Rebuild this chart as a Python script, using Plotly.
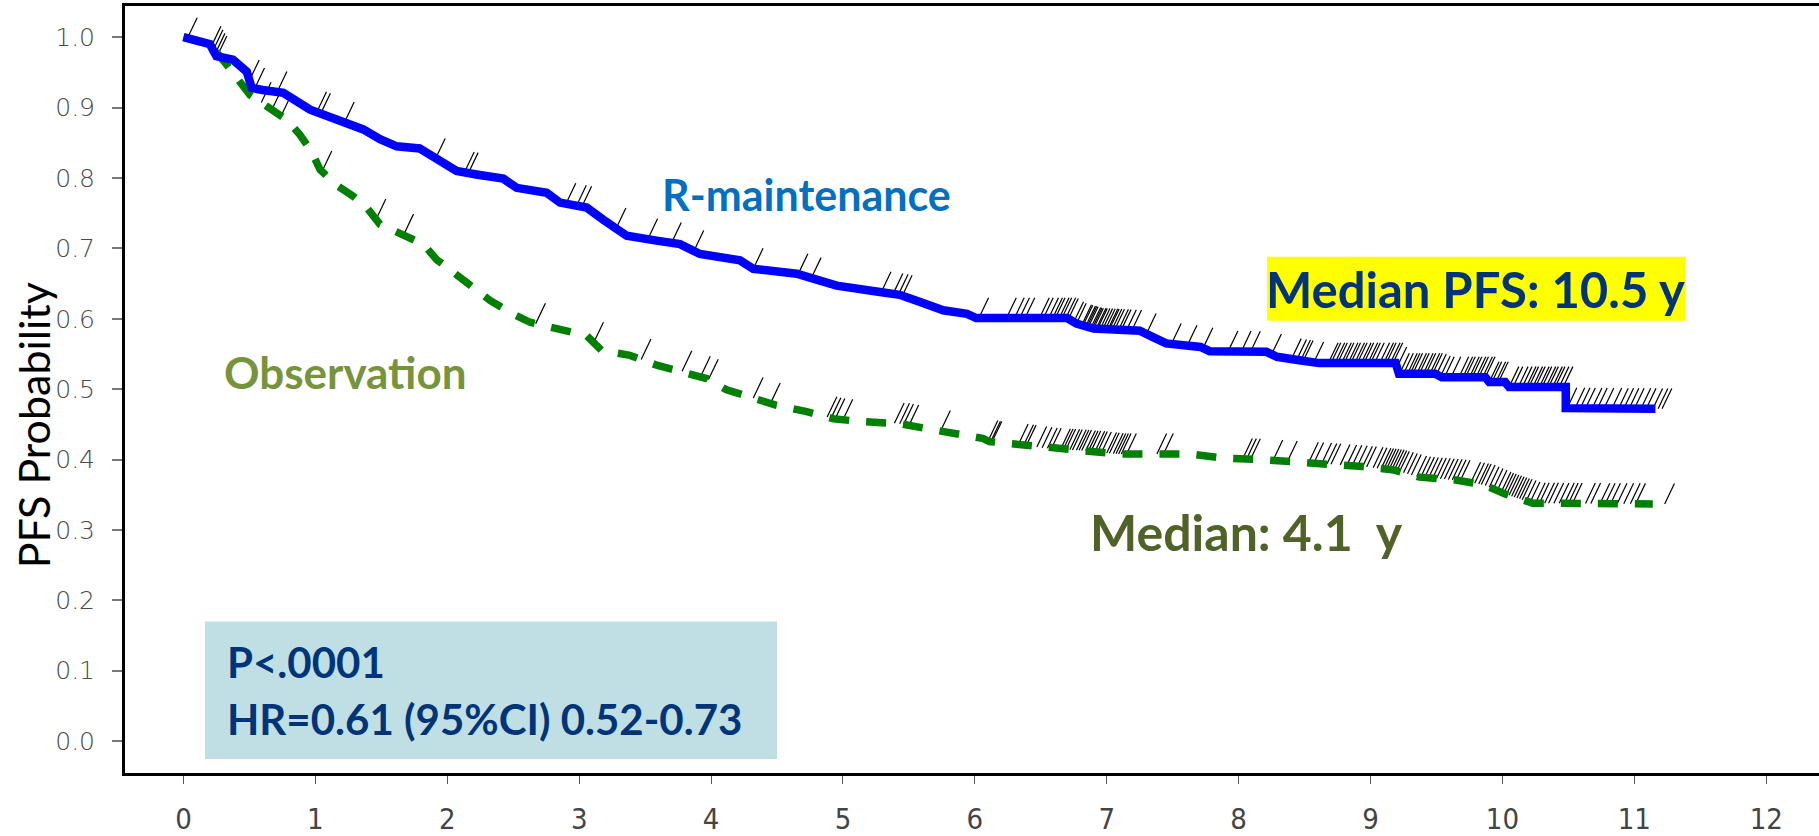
import numpy as np
import plotly.graph_objects as go

# Kaplan-Meier estimates (years, PFS probability)
rmain_t = [0.0, 0.12, 0.20, 0.25, 0.375, 0.48, 0.517, 0.60, 0.757, 0.96, 1.16, 1.363, 1.49,
           1.616, 1.79, 1.92, 2.07, 2.22, 2.425, 2.526, 2.754, 2.854, 3.057, 3.18, 3.36,
           3.587, 3.764, 3.916, 4.219, 4.32, 4.649, 4.775, 4.952, 5.28, 5.43, 5.58, 5.76,
           5.94, 6.01, 6.70, 6.77, 6.90, 7.25, 7.35, 7.45, 7.71, 7.78, 8.21, 8.29, 8.46,
           8.61, 9.19, 9.215, 9.49, 9.54, 9.87, 9.90, 10.02, 10.05, 10.48, 10.48, 11.16]
rmain_s = [1.0, 0.995, 0.99, 0.973, 0.968, 0.951, 0.928, 0.925, 0.921, 0.897, 0.883, 0.869,
           0.855, 0.845, 0.842, 0.826, 0.810, 0.805, 0.799, 0.786, 0.779, 0.765, 0.758,
           0.741, 0.718, 0.711, 0.706, 0.692, 0.683, 0.671, 0.664, 0.657, 0.647, 0.638,
           0.634, 0.624, 0.612, 0.607, 0.601, 0.601, 0.593, 0.586, 0.583, 0.574, 0.565,
           0.560, 0.554, 0.553, 0.546, 0.541, 0.537, 0.537, 0.522, 0.522, 0.517, 0.517,
           0.510, 0.510, 0.503, 0.503, 0.473, 0.472]

obs_t = [0.0, 0.2, 0.327, 0.415, 0.504, 0.63, 0.78, 0.88, 0.97, 1.035, 1.149, 1.287, 1.389,
         1.49, 1.666, 1.818, 1.92, 2.045, 2.173, 2.324, 2.475, 2.627, 2.83, 3.057, 3.17,
         3.385, 3.588, 3.789, 3.967, 4.118, 4.295, 4.497, 4.725, 4.927, 5.13, 5.43, 5.63,
         5.86, 6.06, 6.11, 6.32, 6.54, 6.82, 7.075, 7.63, 7.88, 8.16, 8.41, 8.66, 8.94,
         9.18, 9.37, 9.645, 9.86, 10.02, 10.23, 11.14]
obs_s = [1.0, 0.99, 0.961, 0.94, 0.918, 0.902, 0.883, 0.862, 0.838, 0.812, 0.791, 0.774,
         0.758, 0.734, 0.720, 0.706, 0.684, 0.666, 0.646, 0.626, 0.609, 0.595, 0.586,
         0.576, 0.555, 0.548, 0.534, 0.525, 0.515, 0.499, 0.489, 0.477, 0.468, 0.458,
         0.454, 0.451, 0.444, 0.437, 0.430, 0.4255, 0.4217, 0.416, 0.4127, 0.408, 0.408,
         0.402, 0.400, 0.397, 0.394, 0.390, 0.385, 0.375, 0.371, 0.364, 0.351, 0.338, 0.337]

# Censoring times
rmain_cens = [0.03, 0.21, 0.225, 0.24, 0.255, 0.50, 0.54, 0.71, 1.01, 1.04, 1.22, 1.91, 2.13,
              2.16, 2.90, 2.98, 3.02, 3.28, 3.52, 3.70, 3.87, 4.32, 4.66, 4.76, 5.29, 5.38,
              5.42, 5.45, 6.03, 6.24, 6.30, 6.34, 6.38, 6.49, 6.52, 6.56, 6.59, 6.61, 6.64,
              6.66, 6.69, 6.71, 6.75, 6.77, 6.81, 6.82, 6.84, 6.85, 6.86, 6.88, 6.89, 6.90,
              6.92, 6.93, 6.95, 6.97, 6.99, 7.01, 7.02, 7.04, 7.06, 7.09, 7.11, 7.15, 7.19,
              7.30, 7.49, 7.61, 7.73, 7.92, 8.02, 8.09, 8.25, 8.40, 8.44, 8.47, 8.49, 8.57,
              8.68, 8.70, 8.73, 8.75, 8.78, 8.80, 8.83, 8.85, 8.88, 8.90, 8.93, 8.95, 8.98,
              9.00, 9.03, 9.07, 9.10, 9.12, 9.15, 9.17, 9.20, 9.22, 9.25, 9.28, 9.30, 9.32,
              9.35, 9.37, 9.40, 9.42, 9.45, 9.47, 9.50, 9.53, 9.56, 9.61, 9.67, 9.70, 9.72,
              9.75, 9.77, 9.80, 9.82, 9.85, 9.87, 9.90, 9.92, 9.95, 9.97, 10.05, 10.08,
              10.12, 10.15, 10.18, 10.20, 10.23, 10.25, 10.28, 10.30, 10.33, 10.35, 10.38,
              10.40, 10.43, 10.46, 10.49, 10.55, 10.59, 10.63, 10.68, 10.72, 10.77, 10.83,
              10.88, 10.92, 10.96, 11.00, 11.05, 11.09, 11.14, 11.18, 11.21]
obs_cens = [0.59, 0.67, 0.74, 1.05, 1.46, 1.67, 2.67, 3.11, 3.47, 3.78, 3.92, 3.98, 4.32,
            4.45, 4.88, 4.91, 4.94, 5.00, 5.39, 5.43, 5.46, 5.50, 5.74, 6.10, 6.12, 6.13,
            6.33, 6.37, 6.39, 6.47, 6.51, 6.55, 6.58, 6.65, 6.67, 6.69, 6.72, 6.74, 6.77,
            6.79, 6.81, 6.84, 6.86, 6.88, 6.91, 6.93, 6.96, 7.00, 7.02, 7.05, 7.07, 7.09,
            7.11, 7.15, 7.38, 7.43, 8.03, 8.06, 8.09, 8.26, 8.37, 8.53, 8.57, 8.63, 8.67,
            8.70, 8.77, 8.82, 8.86, 8.90, 8.94, 8.97, 9.02, 9.05, 9.08, 9.10, 9.12, 9.14,
            9.16, 9.18, 9.20, 9.22, 9.25, 9.28, 9.31, 9.35, 9.38, 9.41, 9.44, 9.47, 9.50,
            9.53, 9.56, 9.59, 9.62, 9.65, 9.68, 9.76, 9.79, 9.82, 9.84, 9.87, 9.90, 9.93,
            9.96, 9.99, 10.01, 10.03, 10.05, 10.07, 10.09, 10.11, 10.13, 10.15, 10.18,
            10.21, 10.25, 10.28, 10.32, 10.35, 10.39, 10.43, 10.47, 10.50, 10.53, 10.63,
            10.67, 10.74, 10.78, 10.82, 10.87, 10.92, 10.97, 11.01, 11.23]

x_ticks = list(range(0, 13))
x_ticktext = [str(v) for v in x_ticks]
y_ticks = [0.0, 0.1, 0.2, 0.3, 0.4, 0.5, 0.6, 0.7, 0.8, 0.9, 1.0]
y_ticktext = ["0.0", "0.1", "0.2", "0.3", "0.4", "0.5", "0.6", "0.7", "0.8", "0.9", "1.0"]

# slash-shaped censor tick size in data units
TICK_DX = 0.074
TICK_DY = 0.029


def censor_segments(cens, t, s):
    ys = np.interp(cens, t, s)
    xs_out, ys_out = [], []
    for c, y in zip(cens, ys):
        xs_out += [c, c + TICK_DX, None]
        ys_out += [y, y + TICK_DY, None]
    return xs_out, ys_out


fig = go.Figure()

for cens, t, s in [(rmain_cens, rmain_t, rmain_s), (obs_cens, obs_t, obs_s)]:
    cx, cy = censor_segments(cens, t, s)
    fig.add_trace(go.Scatter(x=cx, y=cy, mode="lines",
                             line=dict(color="black", width=1.2),
                             hoverinfo="skip", showlegend=False))

fig.add_trace(go.Scatter(x=obs_t, y=obs_s, mode="lines", name="Observation",
                         line=dict(color="#008000", width=7.5, dash="20px,17px"),
                         showlegend=False))
fig.add_trace(go.Scatter(x=rmain_t, y=rmain_s, mode="lines", name="R-maintenance",
                         line=dict(color="#0000FF", width=8.5),
                         showlegend=False))

TXT = "Lato"
annos = [
    dict(x=3.61, y=0.777, text="R-maintenance", xanchor="left", yanchor="middle",
         font=dict(family=TXT, size=43, color="#0070C0", weight="bold")),
    dict(x=0.29, y=0.525, text="Observation", xanchor="left", yanchor="middle",
         font=dict(family=TXT, size=44, color="#77933C", weight="bold")),
    dict(x=9.795, y=0.6417, text="Median PFS: 10.5 y", xanchor="center", yanchor="middle",
         font=dict(family=TXT, size=49, color="#003478", weight="bold")),
    dict(x=6.86, y=0.297, text="Median: 4.1\u00a0 y", xanchor="left", yanchor="middle",
         font=dict(family=TXT, size=50, color="#4F6228", weight="bold")),
    dict(x=0.315, y=0.112, text="P<.0001", xanchor="left", yanchor="middle",
         font=dict(family=TXT, size=42, color="#003478", weight="bold")),
    dict(x=0.315, y=0.032, text="HR=0.61 (95%CI) 0.52-0.73", xanchor="left", yanchor="middle",
         font=dict(family=TXT, size=42, color="#003478", weight="bold")),
    dict(x=-0.0543, xref="paper", y=0.4486, text="PFS Probability", textangle=-90,
         xanchor="center", yanchor="middle",
         font=dict(family=TXT, size=43, color="black")),
]
for a in annos:
    a.setdefault("xref", "x")
    a.setdefault("yref", "y")
    a["showarrow"] = False
    fig.add_annotation(**a)

fig.add_shape(type="rect", xref="x", yref="y", x0=0.163, x1=4.50, y0=-0.0255, y1=0.170,
              fillcolor="#C0DFE4", line=dict(width=0), layer="below")
fig.add_shape(type="rect", xref="x", yref="y", x0=8.215, x1=11.39, y0=0.597, y1=0.688,
              fillcolor="#FFFF00", line=dict(width=0), layer="below")

fig.update_layout(
    width=1819, height=836,
    margin=dict(l=125, r=0, t=6, b=60),
    paper_bgcolor="white", plot_bgcolor="white",
    showlegend=False,
    xaxis=dict(range=[-0.4435, 12.40], tickvals=x_ticks, ticktext=x_ticktext,
               showgrid=False, zeroline=False, showline=True, linewidth=3,
               linecolor="black", mirror=True, ticks="outside", ticklen=8,
               tickcolor="#555555", tickwidth=1.2, ticklabelstandoff=10,
               tickfont=dict(family="Liberation Sans Narrow, DejaVu Sans Condensed",
                             size=29, color="#444444")),
    yaxis=dict(range=[-0.0453, 1.0443], tickvals=y_ticks, ticktext=y_ticktext,
               showgrid=False, zeroline=False, showline=True, linewidth=3,
               linecolor="black", mirror=False, ticks="outside", ticklen=10,
               tickcolor="#777777", tickwidth=1.5, ticklabelstandoff=12,
               tickfont=dict(family="DejaVu Sans", size=25, color="#4a4a4a", weight=200)),
)

fig.write_html("out.html")
